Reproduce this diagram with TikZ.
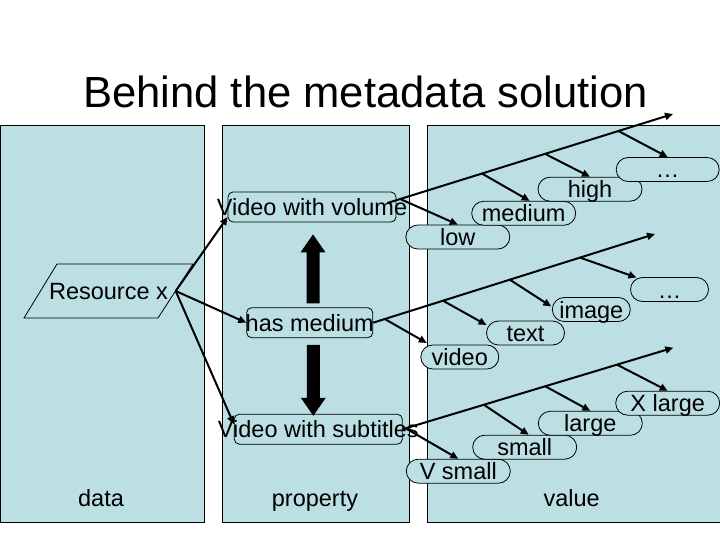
\documentclass[tikz,border=0pt]{standalone}
\usepackage{fontspec}
\setmainfont{Liberation Sans}
\usetikzlibrary{arrows.meta}
\definecolor{panel}{RGB}{187,223,227}
\begin{document}
\begin{tikzpicture}[x=1pt,y=-1pt,
  txt/.style={font=\fontsize{23.5}{28}\selectfont},
  panelbox/.style={draw=black, line width=1pt, fill=panel},
  prop/.style={draw=black, line width=0.8pt, fill=panel, rounded corners=5pt, inner sep=0pt, text height=17pt, text depth=0pt, txt},
  val/.style={draw=black, line width=0.8pt, fill=panel, rounded corners=12pt, inner sep=0pt, minimum height=24pt, text height=17pt, text depth=0pt, txt},
  conn/.style={line width=2pt, -{Triangle[length=8pt 0 0,width=7pt 0 0]}},
  bigarrow/.style={fill=black},
]
\useasboundingbox (0,0) rectangle (720,540);
% panels
\draw[panelbox] (0.5,126) rectangle (204,522);
\draw[panelbox] (222,126) rectangle (409,522);
\fill[panel] (427,126) rectangle (720,522);
\draw[line width=1pt] (720,126) -- (427,126) -- (427,522) -- (720,522);
% title and column labels
\node[anchor=base, font=\fontsize{43.6}{52}\selectfont] (title) at (365.5,108) {Behind the metadata solution};
\node[txt, anchor=base] (ldata) at (101,506) {data};
\node[txt, anchor=base] (lprop) at (315,506) {property};
\node[txt, anchor=base] (lval) at (571.7,506) {value};
% resource
\draw[line width=0.8pt, fill=panel] (57,264) -- (193,264) -- (158,318) -- (24,318) -- cycle;
\node[txt, inner sep=0pt, minimum width=134pt, minimum height=54pt, text height=17pt, text depth=0pt] (res) at (108.5,291) {Resource x};
% properties
\node[prop, minimum width=168pt, minimum height=30pt] (vwv) at (312,207) {\makebox[0pt]{Video with volume}};
\node[prop, minimum width=126pt, minimum height=30pt] (hm) at (309.7,322.7) {\makebox[0pt]{has medium}};
\node[prop, minimum width=168pt, minimum height=30pt] (vws) at (318.3,429.2) {\makebox[0pt]{Video with subtitles}};
% values
\node[val, minimum width=104pt] (low) at (457.8,237) {low};
\node[val, minimum width=104pt] (med) at (523.7,213.3) {medium};
\node[val, minimum width=104pt] (high) at (590,189.2) {high};
\node[val, minimum width=103pt] (vdots) at (667.7,169.5) {…};
\node[val, minimum width=78pt] (video) at (459.8,357) {video};
\node[val, minimum width=78pt] (txtv) at (525.5,333) {text};
\node[val, minimum width=78pt] (image) at (591.3,309.5) {image};
\node[val, minimum width=78pt] (mdots) at (669.5,289.5) {…};
\node[val, minimum width=104pt] (vsmall) at (458.3,471.2) {V small};
\node[val, minimum width=104pt] (small) at (524.7,447.2) {small};
\node[val, minimum width=104pt] (large) at (590.3,423.3) {large};
\node[val, minimum width=104pt] (xlarge) at (667.7,403.2) {X large};
% resource connectors
\draw[conn] (res.east) -- ([yshift=-10pt]vwv.west);
\draw[conn] (res.east) -- (hm.west);
\draw[conn] (res.east) -- ([yshift=5pt]vws.west);
% volume spine
\coordinate (s1) at ([shift={(-9,-4)}]vwv.east);
\coordinate (e1) at (673,114);
\draw[conn] (s1) -- (e1) coordinate[pos=0.045] (b11) coordinate[pos=0.331] (b12) coordinate[pos=0.552] (b13) coordinate[pos=0.809] (b14);
\draw[conn] (b11) -- (low.north);
\draw[conn] (b12) -- ([xshift=6pt]med.north);
\draw[conn] (b13) -- (high.north);
\draw[conn] (b14) -- (vdots.north);
% medium spine
\coordinate (e2) at (655,234);
\draw[conn] (hm.east) -- (e2) coordinate[pos=0.0415] (b21) coordinate[pos=0.248] (b22) coordinate[pos=0.485] (b23) coordinate[pos=0.734] (b24);
\draw[conn] (b21) -- ([shift={(-33,-14)}]video.center);
\draw[conn] (b22) -- ([shift={(-39,-8)}]txtv.center);
\draw[conn] (b23) -- ([shift={(-40,-3)}]image.center);
\draw[conn] (b24) -- ([shift={(-33,-12)}]mdots.center);
% subtitles spine
\coordinate (e3) at (673.3,347.7);
\draw[conn] (vws.east) -- (e3) coordinate[pos=0.011] (b31) coordinate[pos=0.30] (b32) coordinate[pos=0.527] (b33) coordinate[pos=0.792] (b34);
\draw[conn] (b31) -- (vsmall.north);
\draw[conn] (b32) -- ([xshift=4pt]small.north);
\draw[conn] (b33) -- (large.north);
\draw[conn] (b34) -- (xlarge.north);
% big double arrow (block arrows)
\fill[bigarrow] ([shift={(1,12)}]vwv.south) -- ++(12.5,18) -- ++(-6,0) -- ++(0,51) -- ++(-13,0) -- ++(0,-51) -- ++(-6,0) -- cycle;
\fill[bigarrow] ([shift={(-5,2)}]vws.north) -- ++(12.5,-18) -- ++(-6,0) -- ++(0,-53) -- ++(-13,0) -- ++(0,53) -- ++(-6,0) -- cycle;
\end{tikzpicture}
\end{document}
